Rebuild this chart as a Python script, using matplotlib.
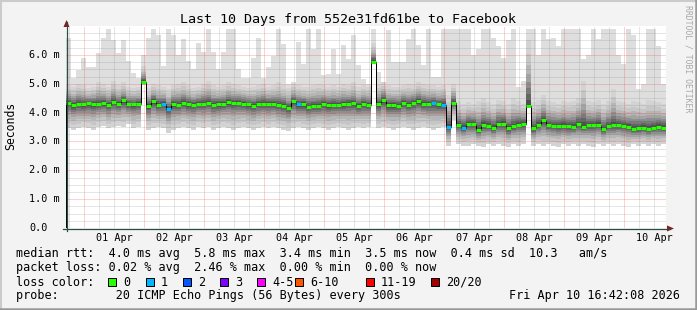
import matplotlib as mpl

mpl.use("Agg")
from datetime import datetime, timedelta

import matplotlib.dates as mdates
import matplotlib.pyplot as plt
import numpy as np
from matplotlib.lines import Line2D
from matplotlib.patches import Polygon, Rectangle
from matplotlib.transforms import blended_transform_factory

W, H = 697, 310

TITLE = "Last 10 Days from 552e31fd61be to Facebook"
END = datetime(2026, 4, 10, 16, 42, 8)
START = END - timedelta(days=10)
STEP_HOURS = 2

# median rtt per 2h column (ms)
median = [
    4.34, 4.25, 4.30, 4.28, 4.32, 4.30, 4.30, 4.32, 4.26, 4.37,
    4.30, 4.42, 4.28, 4.28, 4.29, 5.06, 4.22, 4.40, 4.27, 4.30,
    4.12, 4.29, 4.27, 4.34, 4.29, 4.27, 4.30, 4.31, 4.34, 4.27,
    4.29, 4.30, 4.36, 4.33, 4.34, 4.31, 4.28, 4.24, 4.30, 4.31,
    4.30, 4.30, 4.26, 4.23, 4.16, 4.39, 4.28, 4.29, 4.21, 4.22,
    4.22, 4.30, 4.26, 4.27, 4.26, 4.29, 4.31, 4.32, 4.22, 4.30,
    4.26, 5.76, 4.29, 4.44, 4.25, 4.25, 4.23, 4.34, 4.26, 4.34,
    4.40, 4.30, 4.30, 4.32, 4.28, 4.27, 3.51, 4.34, 3.57, 3.48,
    3.60, 3.60, 3.40, 3.58, 3.55, 3.47, 3.60, 3.62, 3.45, 3.52,
    3.58, 3.60, 4.22, 3.45, 3.57, 3.74, 3.56, 3.54, 3.54, 3.54,
    3.52, 3.50, 3.60, 3.51, 3.56, 3.56, 3.58, 3.43, 3.53, 3.56,
    3.56, 3.54, 3.51, 3.43, 3.45, 3.48, 3.42, 3.47, 3.51, 3.48,
]

# slowest ping per column (top of the light smoke)
ping_max = [
    6.57, 5.20, 5.47, 5.88, 5.57, 5.57, 6.05, 6.60, 6.90, 6.50,
    6.05, 6.50, 5.80, 5.36, 5.20, 6.00, 6.60, 6.91, 6.70, 5.60,
    6.91, 6.70, 6.00, 6.56, 5.80, 5.50, 6.40, 6.10, 6.91, 6.10,
    5.50, 6.10, 6.91, 6.91, 5.50, 5.20, 5.20, 5.90, 6.60, 5.20,
    5.58, 5.95, 6.91, 6.39, 5.00, 5.06, 6.45, 5.70, 6.91, 6.22,
    6.91, 5.30, 5.35, 6.22, 5.35, 6.33, 5.87, 6.68, 5.64, 5.18,
    5.00, 6.91, 5.40, 5.01, 6.85, 5.76, 5.76, 5.76, 6.56, 6.91,
    6.33, 5.64, 6.91, 5.25, 5.25, 6.91, 6.91, 6.91, 6.91, 6.91,
    6.91, 6.00, 6.20, 6.91, 6.91, 6.60, 6.30, 5.90, 6.50, 6.91,
    4.90, 5.10, 6.91, 6.91, 6.00, 6.91, 6.56, 6.60, 6.30, 6.91,
    6.91, 6.91, 6.91, 5.87, 5.99, 6.91, 6.56, 6.91, 6.91, 6.91,
    6.00, 5.70, 6.91, 6.68, 4.80, 5.00, 6.91, 6.91, 6.30, 5.00,
]

# upper edge of the dense smoke
smoke_high = [
    4.95, 4.90, 5.00, 4.95, 4.85, 4.90, 5.05, 5.00, 4.90, 5.10,
    4.95, 5.05, 4.90, 4.85, 4.90, 5.60, 4.85, 5.00, 4.95, 4.90,
    4.80, 4.95, 5.00, 5.05, 4.95, 4.85, 4.90, 5.00, 5.10, 4.95,
    4.90, 4.95, 5.05, 5.00, 4.95, 4.90, 4.85, 4.90, 4.95, 5.00,
    4.90, 4.95, 5.05, 4.95, 4.85, 5.00, 4.95, 4.90, 4.90, 4.95,
    5.00, 4.95, 4.90, 4.95, 4.90, 5.00, 4.95, 5.05, 4.90, 4.95,
    4.90, 6.40, 5.00, 5.05, 4.95, 4.90, 4.90, 4.95, 5.00, 4.95,
    5.05, 5.00, 4.95, 4.95, 4.90, 4.95, 4.60, 5.00, 4.40, 4.30,
    4.35, 4.30, 4.40, 4.50, 4.35, 4.30, 4.45, 4.40, 4.30, 4.50,
    4.40, 4.30, 6.50, 4.35, 4.45, 4.60, 4.40, 4.35, 4.30, 4.40,
    4.35, 4.40, 4.50, 5.10, 4.40, 4.35, 4.45, 4.30, 4.40, 4.80,
    4.40, 4.35, 4.30, 4.40, 4.35, 4.30, 4.45, 4.40, 4.35, 4.30,
]

# fastest ping per column (bottom of the smoke)
ping_min = [
    3.45, 3.40, 3.45, 3.50, 3.45, 3.40, 3.50, 3.55, 3.45, 3.50,
    3.55, 3.50, 3.60, 3.45, 3.50, 4.95, 3.40, 3.45, 3.50, 3.45,
    3.30, 3.40, 3.45, 3.50, 3.45, 3.40, 3.50, 3.45, 3.50, 3.40,
    3.45, 3.50, 3.45, 3.40, 3.45, 3.50, 3.45, 3.40, 3.45, 3.50,
    3.45, 3.50, 3.45, 3.40, 3.35, 3.45, 3.50, 3.45, 3.40, 3.45,
    3.50, 3.45, 3.40, 3.45, 3.50, 3.45, 3.40, 3.45, 3.50, 3.45,
    3.50, 5.70, 3.45, 3.50, 3.45, 3.40, 3.45, 3.50, 3.45, 3.40,
    3.45, 3.50, 3.45, 3.40, 3.45, 3.50, 2.85, 3.75, 2.90, 2.85,
    2.85, 2.90, 2.85, 2.80, 2.90, 2.85, 2.90, 2.85, 2.80, 2.90,
    2.85, 2.90, 4.15, 2.85, 2.90, 2.85, 2.90, 2.85, 2.80, 2.90,
    2.85, 2.90, 2.85, 2.90, 2.85, 2.80, 2.90, 2.85, 2.90, 2.85,
    2.90, 2.85, 2.80, 2.90, 2.85, 2.90, 2.85, 2.90, 2.85, 2.90,
]

# columns where 1 of 20 pings was lost
loss_one_cols = [19, 20, 46, 73, 75, 76, 79]

Y_TICKS = [0, 1, 2, 3, 4, 5, 6]
DAY_LABELS = ["01 Apr", "02 Apr", "03 Apr", "04 Apr", "05 Apr",
              "06 Apr", "07 Apr", "08 Apr", "09 Apr", "10 Apr"]

LOSS_NAMES = ["0", "1", "2", "3", "4-5", "6-10", "11-19", "20/20"]
LOSS_COLORS = ["#26ff00", "#00b8ff", "#0059ff", "#7e00ff", "#ff00ff", "#ff5500", "#ff0000", "#a00000"]

LEGEND_RTT = "median rtt:  4.0 ms avg  5.8 ms max  3.4 ms min  3.5 ms now  0.4 ms sd  10.3   am/s"
LEGEND_LOSS = "packet loss: 0.02 % avg  2.46 % max  0.00 % min  0.00 % now"
LEGEND_PROBE = "probe:        20 ICMP Echo Pings (56 Bytes) every 300s"
STAMP = "Fri Apr 10 16:42:08 2026"

MONO = "DejaVu Sans Mono"
plt.rcParams["font.family"] = MONO


def fx(x):
    return x / W


def fy(y):
    return 1 - y / H


fig = plt.figure(figsize=(W / 100, H / 100), dpi=100, facecolor="#f3f3f3")
ax = fig.add_axes([fx(66), fy(228), 600 / W, 202 / H])
ax.set_facecolor("white")
for spine in ax.spines.values():
    spine.set_visible(False)
ax.set_xticks([])
ax.set_yticks([])

t0 = mdates.date2num(START)
t1 = mdates.date2num(END)
edges = t0 + np.arange(len(median) + 1) * STEP_HOURS / 24
med = np.array(median)
hi = np.array(smoke_high)
lo = np.array(ping_min)

# smoke: lightest envelope, then darker layers closing in on the median
ax.stairs(ping_max, edges, baseline=lo, fill=True, color="#dedede", lw=0, zorder=1)
fracs = [1.0, 0.8, 0.63, 0.49, 0.37, 0.27, 0.18, 0.1]
grays = ["#d3d3d3", "#c6c6c6", "#b6b6b6", "#a3a3a3", "#8e8e8e", "#797979", "#646464", "#505050"]
for f, g in zip(fracs, grays):
    ax.stairs(med + (hi - med) * f, edges, baseline=med - (med - lo) * f,
              fill=True, color=g, lw=0, zorder=1)

# grid
for v in np.arange(0.25, 7.0, 0.25):
    if abs(v - round(v)) < 1e-6:
        ax.axhline(v, color="#ff2020", alpha=0.4, lw=0.72, ls=(0, (1, 1)), zorder=3)
    else:
        ax.axhline(v, color="#808080", alpha=0.4, lw=0.72, ls=(0, (1, 1)), zorder=3)
six_hours = mdates.drange(datetime(2026, 3, 31, 18), END, timedelta(hours=6))
for t in six_hours:
    if mdates.num2date(t).hour == 0:
        ax.axvline(t, color="#ff2020", alpha=0.4, lw=0.72, ls=(0, (1, 1)), zorder=3)
    else:
        ax.axvline(t, color="#808080", alpha=0.4, lw=0.72, ls=(0, (1, 1)), zorder=3)

# median line
ax.stairs(med, edges, color="black", lw=0.72, zorder=4)
seg_colors = [LOSS_COLORS[1] if i in loss_one_cols else LOSS_COLORS[0] for i in range(len(median))]
ax.hlines(med, edges[:-1], edges[1:], colors=seg_colors, lw=2.2, zorder=5)

ax.set_xlim(t0, t1)
ax.set_ylim(0, 7.0)

# axes with arrows
axis_col = "#2c4d43"
arrow_col = "#8b1a1a"
fig.add_artist(Line2D([fx(66.5), fx(66.5)], [fy(231), fy(22)], color=axis_col, lw=0.9))
fig.add_artist(Line2D([fx(63), fx(670)], [fy(228.5), fy(228.5)], color=axis_col, lw=0.9))
fig.add_artist(Polygon([(fx(63.5), fy(27)), (fx(69.5), fy(27)), (fx(66.5), fy(20))],
                       closed=True, color=arrow_col, lw=0))
fig.add_artist(Polygon([(fx(667), fy(225.5)), (fx(667), fy(231.5)), (fx(674), fy(228.5))],
                       closed=True, color=arrow_col, lw=0))

# tick labels
ytrans = blended_transform_factory(fig.transFigure, ax.transData)
for v in Y_TICKS:
    label = "0.0" if v == 0 else f"{v:.1f} m"
    fig.text(fx(29), v, label, transform=ytrans, ha="left", va="center", fontsize=7.3)
xtrans = blended_transform_factory(ax.transData, fig.transFigure)
for i, lab in enumerate(DAY_LABELS):
    noon = mdates.date2num(datetime(2026, 4, 1 + i, 12))
    fig.text(noon, fy(238), lab, transform=xtrans, ha="center", va="center", fontsize=7.3)

fig.text(fx(348), fy(19), TITLE, ha="center", va="center", fontsize=9.6)
fig.text(fx(11), fy(126), "Seconds", rotation=90, ha="center", va="center", fontsize=8.3)
fig.text(fx(688), fy(5), "RRDTOOL / TOBI OETIKER", rotation=270, ha="center", va="top",
         fontsize=5.9, color="#a8a8a8")

# legend
fig.text(fx(16), fy(254), LEGEND_RTT, ha="left", va="center", fontsize=8.5)
fig.text(fx(16), fy(268), LEGEND_LOSS, ha="left", va="center", fontsize=8.5)
fig.text(fx(16), fy(282), "loss color:", ha="left", va="center", fontsize=8.5)
swatch_x = [108, 145.5, 183, 220, 257, 295, 366, 431]
for sx, name, col in zip(swatch_x, LOSS_NAMES, LOSS_COLORS):
    fig.add_artist(Rectangle((fx(sx), fy(286)), 8 / W, 8 / H, facecolor=col,
                             edgecolor="black", lw=0.72))
    fig.text(fx(sx + 15), fy(282), name, ha="left", va="center", fontsize=8.5)
fig.text(fx(16), fy(296), LEGEND_PROBE, ha="left", va="center", fontsize=8.5)
fig.text(fx(680), fy(296), STAMP, ha="right", va="center", fontsize=8.5)

# 3d frame
fig.add_artist(Line2D([0, 1], [fy(0.5), fy(0.5)], color="#cbcbcb", lw=1.5))
fig.add_artist(Line2D([fx(0.5), fx(0.5)], [0, 1], color="#cbcbcb", lw=1.5))
fig.add_artist(Line2D([0, 1], [fy(309), fy(309)], color="#999999", lw=1.8))
fig.add_artist(Line2D([fx(696), fx(696)], [0, 1], color="#999999", lw=1.8))

fig.savefig("out.png", dpi=100, facecolor=fig.get_facecolor())
plt.close(fig)
